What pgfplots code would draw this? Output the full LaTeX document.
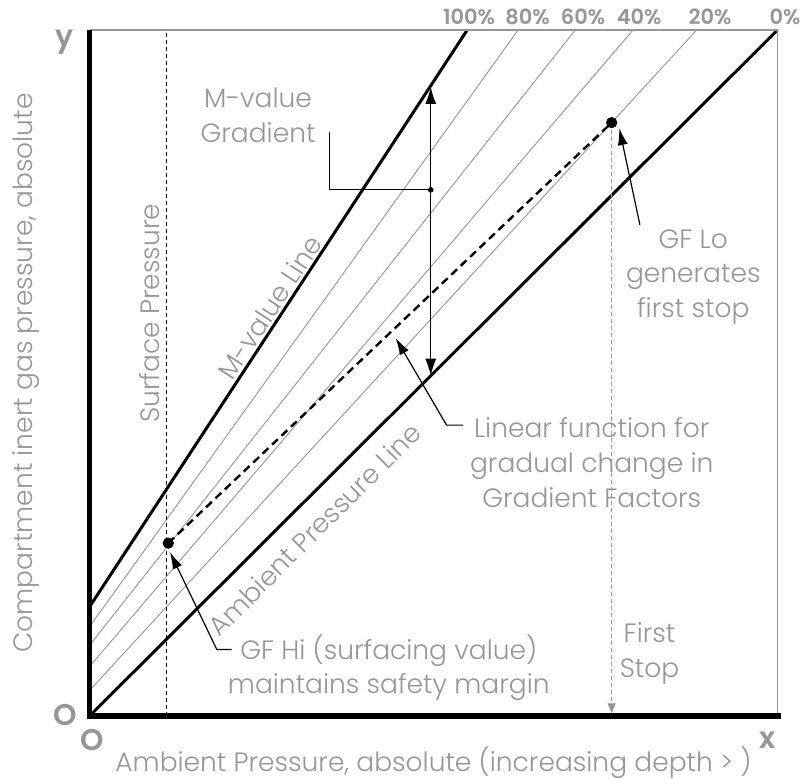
\documentclass[border=0pt]{standalone}
\usepackage{fontspec}
\setmainfont{Poppins}[UprightFont={* Light}, BoldFont={* SemiBold}]
\usepackage{pgfplots}
\pgfplotsset{compat=1.18}
\usetikzlibrary{arrows.meta}
\definecolor{tg}{RGB}{150,150,150}
\begin{document}
\begin{tikzpicture}
\path[use as bounding box] (-44.75bp,-31.5bp) rectangle (356.25bp,358bp);
\begin{axis}[
  name=ax, at={(0,0)}, anchor=south west,
  width=344bp, height=343bp, scale only axis,
  xmin=0, xmax=1, ymin=0, ymax=1,
  axis line style={draw=none}, ticks=none,
  clip=false,
]
% gradient factor lines (80%, 60%, 40%, 20%)
\addplot[tg, line width=0.45bp] coordinates {(0,0.130) (0.623,1)};
\addplot[tg, line width=0.45bp] coordinates {(0,0.103) (0.706,1)};
\addplot[tg, line width=0.45bp] coordinates {(0,0.072) (0.790,1)};
\addplot[tg, line width=0.45bp] coordinates {(0,0.037) (0.8826,1)};
% M-value line (100%) and ambient pressure line (0%)
\addplot[black, line width=1.5bp] coordinates {(0,0.159) (0.549,1)};
\addplot[black, line width=1.5bp] coordinates {(0,0) (1,1)};
% frame
\draw[tg, line width=0.7bp] (axis cs:0,1) -- (axis cs:1,1) -- (axis cs:1,0);
\draw[black, line width=2.6bp] (axis cs:0,1) -- (axis cs:0,0) -- (axis cs:1.005,0);
% surface pressure
\draw[black, line width=0.45bp, dash pattern=on 2bp off 1.5bp] (axis cs:0.112,0) -- (axis cs:0.112,1);
% first stop
\draw[tg, line width=0.6bp, dash pattern=on 2bp off 1.5bp, -{Triangle[length=5bp,width=4bp]}] (axis cs:0.759,0.865) -- (axis cs:0.759,0.004);
% linear function between GF Hi and GF Lo
\addplot[black, line width=1.2bp, dash pattern=on 4bp off 2.5bp] coordinates {(0.1145,0.252) (0.759,0.865)};
\addplot[only marks, mark=*, mark size=2.6bp, black] coordinates {(0.1145,0.252) (0.759,0.865)};
% M-value gradient arrow
\draw[black, line width=0.6bp, {Latex[length=8.5bp,width=5.5bp]}-{Latex[length=8.5bp,width=5.5bp]}] (axis cs:0.496,0.496) -- (axis cs:0.496,0.917);
\draw[black, line width=0.6bp] (axis cs:0.496,0.767) -- (axis cs:0.3486,0.767) -- (axis cs:0.3486,0.851);
\fill[black] (axis cs:0.496,0.767) circle (1.4bp);
% leaders
\draw[black, line width=0.6bp, -{Latex[length=8.5bp,width=5bp]}] (axis cs:0.800,0.716) -- (axis cs:0.770,0.857);
\draw[black, line width=0.6bp, -{Latex[length=8.5bp,width=5bp]}] (axis cs:0.543,0.424) -- (axis cs:0.519,0.424) -- (axis cs:0.445,0.551);
\draw[black, line width=0.6bp, -{Latex[length=8.5bp,width=5bp]}] (axis cs:0.2067,0.097) -- (axis cs:0.185,0.097) -- (axis cs:0.117,0.239);
% texts
\tikzset{lab/.style={text=tg, font=\fontsize{13.3}{17.5}\selectfont, align=center, inner sep=0pt}}
\node[lab] at (axis cs:0.245,0.876) {M-value\\Gradient};
\node[lab, rotate=90] at (axis cs:0.088,0.587) {Surface Pressure};
\node[lab, rotate=56.8] at (axis cs:0.262,0.596) {M-value Line};
\node[lab, rotate=44.9] at (axis cs:0.327,0.272) {Ambient Pressure Line};
\node[lab] at (axis cs:0.8776,0.640) {GF Lo\\generates\\first stop};
\node[lab] at (axis cs:0.730,0.369) {Linear function for\\gradual change in\\Gradient Factors};
\node[lab] at (axis cs:0.435,0.0705) {GF Hi (surfacing value)\\maintains safety margin};
\node[lab] at (axis cs:0.814,0.091) {First\\Stop};
% percentage labels
\tikzset{pct/.style={text=tg, font=\fontsize{10.5}{12}\selectfont\bfseries, anchor=base, inner sep=0pt, yshift=2.5bp}}
\node[pct] at (axis cs:0.5516,1) {100\%};
\node[pct] at (axis cs:0.6366,1) {80\%};
\node[pct] at (axis cs:0.7173,1) {60\%};
\node[pct] at (axis cs:0.799,1) {40\%};
\node[pct] at (axis cs:0.9019,1) {20\%};
\node[pct] at (axis cs:1.0109,1) {0\%};
% axis letters
\tikzset{big/.style={text=tg, font=\fontsize{15}{16}\selectfont\bfseries, inner sep=0pt}}
\node[big] at ([xshift=-12.3bp,yshift=-6.2bp]axis cs:0,1) {y};
\node[big] at ([xshift=-12.3bp,yshift=0.7bp]axis cs:0,0) {O};
\node[big] at ([xshift=1.25bp,yshift=-11.9bp]axis cs:0,0) {O};
\node[big] at ([yshift=-11.9bp]axis cs:0.985,0) {x};
% axis titles
\node[lab] at ([yshift=-23.2bp]axis cs:0.5,0) {Ambient Pressure, absolute (increasing depth > )};
\node[lab, rotate=90] at ([xshift=-31.75bp]axis cs:0,0.5) {Compartment inert gas pressure, absolute};
\end{axis}
\end{tikzpicture}
\end{document}
